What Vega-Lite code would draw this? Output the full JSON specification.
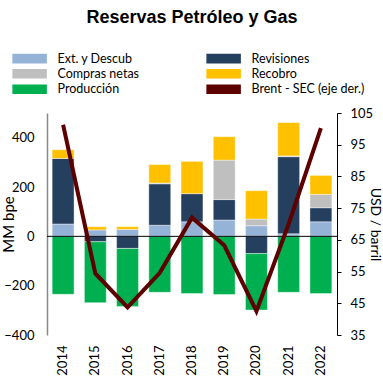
{
  "$schema": "https://vega.github.io/schema/vega-lite/v6.json",
  "width": 290,
  "height": 222,
  "autosize": {"type": "none"},
  "padding": {"left": 47, "top": 113, "right": 46, "bottom": 48},
  "background": "white",
  "title": {"text": "Reservas Petróleo y Gas", "font": "Liberation Sans", "fontSize": 18, "fontWeight": "bold", "anchor": "middle", "frame": "group", "color": "black", "offset": 25},
  "config": {"view": {"stroke": null}, "axis": {"grid": false}},
  "resolve": {"scale": {"y": "independent"}},
  "layer": [
    {
      "layer": [
        {
          "data": {"values": [
            {"year": "2014", "series": "Ext. y Descub", "value": 50},
            {"year": "2014", "series": "Revisiones", "value": 266},
            {"year": "2014", "series": "Recobro", "value": 35},
            {"year": "2014", "series": "Producción", "value": -235},
            {"year": "2015", "series": "Ext. y Descub", "value": 26},
            {"year": "2015", "series": "Revisiones", "value": -22},
            {"year": "2015", "series": "Recobro", "value": 13},
            {"year": "2015", "series": "Producción", "value": -247},
            {"year": "2016", "series": "Ext. y Descub", "value": 28},
            {"year": "2016", "series": "Revisiones", "value": -49},
            {"year": "2016", "series": "Recobro", "value": 11},
            {"year": "2016", "series": "Producción", "value": -235},
            {"year": "2017", "series": "Ext. y Descub", "value": 45},
            {"year": "2017", "series": "Revisiones", "value": 168},
            {"year": "2017", "series": "Compras netas", "value": 3},
            {"year": "2017", "series": "Recobro", "value": 75},
            {"year": "2017", "series": "Producción", "value": -227},
            {"year": "2018", "series": "Ext. y Descub", "value": 59},
            {"year": "2018", "series": "Revisiones", "value": 114},
            {"year": "2018", "series": "Recobro", "value": 131},
            {"year": "2018", "series": "Producción", "value": -232},
            {"year": "2019", "series": "Ext. y Descub", "value": 66},
            {"year": "2019", "series": "Revisiones", "value": 83},
            {"year": "2019", "series": "Compras netas", "value": 160},
            {"year": "2019", "series": "Recobro", "value": 95},
            {"year": "2019", "series": "Producción", "value": -236},
            {"year": "2020", "series": "Ext. y Descub", "value": 43},
            {"year": "2020", "series": "Revisiones", "value": -70},
            {"year": "2020", "series": "Compras netas", "value": 27},
            {"year": "2020", "series": "Recobro", "value": 115},
            {"year": "2020", "series": "Producción", "value": -229},
            {"year": "2021", "series": "Ext. y Descub", "value": 10},
            {"year": "2021", "series": "Revisiones", "value": 313},
            {"year": "2021", "series": "Compras netas", "value": 3},
            {"year": "2021", "series": "Recobro", "value": 135},
            {"year": "2021", "series": "Producción", "value": -227},
            {"year": "2022", "series": "Ext. y Descub", "value": 59},
            {"year": "2022", "series": "Revisiones", "value": 57},
            {"year": "2022", "series": "Compras netas", "value": 54},
            {"year": "2022", "series": "Recobro", "value": 77},
            {"year": "2022", "series": "Producción", "value": -232}
          ]},
          "transform": [
            {"calculate": "indexof(['Ext. y Descub','Revisiones','Compras netas','Recobro','Producción'], datum.series)", "as": "ord"}
          ],
          "mark": {"type": "bar", "stroke": "white", "strokeWidth": 0.6, "strokeOpacity": 0.7},
          "encoding": {
            "x": {
              "field": "year", "type": "ordinal",
              "scale": {"paddingInner": 0.32, "paddingOuter": 0.16},
              "axis": {"title": null, "labelAngle": -90, "labelFont": "Lato", "labelFontSize": 13, "labelColor": "black", "ticks": false, "domain": false, "labelPadding": 10}
            },
            "y": {
              "field": "value", "type": "quantitative",
              "scale": {"domain": [-400, 500], "nice": false},
              "axis": {"title": "MM bpe", "titleFont": "Lato", "titleFontSize": 15, "titleFontWeight": "normal", "titleColor": "black", "titleX": -31, "values": [-400, -200, 0, 200, 400], "labelFont": "Lato", "labelFontSize": 13, "labelColor": "black", "ticks": false, "labelPadding": 13, "domainColor": "#888888", "domainWidth": 1.5}
            },
            "color": {
              "field": "series", "type": "nominal",
              "scale": {
                "domain": ["Ext. y Descub", "Compras netas", "Producción", "Revisiones", "Recobro", "Brent - SEC (eje der.)"],
                "range": ["#95B3D7", "#BFBFBF", "#00B050", "#253F5F", "#FFC000", "#5C0000"]
              },
              "legend": {
                "orient": "none", "legendX": -36, "legendY": -61, "columns": 2, "title": null,
                "labelFont": "Lato", "labelFontSize": 12.5, "labelColor": "black", "labelLimit": 250,
                "symbolType": "M-1,-1H7V1H-1Z", "symbolSize": 68, "labelOffset": 34,
                "columnPadding": 64, "rowPadding": 0.5,
                "encode": {"symbols": {"update": {
                  "shape": {"signal": "datum.value === 'Brent - SEC (eje der.)' ? 'M-1.3,0H7.5' : 'M-1,-1H7V1H-1Z'"},
                  "fill": {"signal": "datum.value === 'Brent - SEC (eje der.)' ? 'transparent' : scale('color', datum.value)"},
                  "stroke": {"signal": "datum.value === 'Brent - SEC (eje der.)' ? '#5C0000' : 'transparent'"},
                  "strokeWidth": {"value": 3},
                  "opacity": {"value": 1},
                  "fillOpacity": {"value": 1},
                  "strokeOpacity": {"value": 1}
                }}}
              }
            },
            "order": {"field": "ord", "type": "quantitative"}
          }
        },
        {
          "data": {"values": [{}]},
          "mark": {"type": "rule", "color": "black", "strokeWidth": 1},
          "encoding": {"y": {"datum": 0}}
        }
      ]
    },
    {
      "data": {"values": [
        {"year": "2014", "series": "Brent - SEC (eje der.)", "brent": 101.3},
        {"year": "2015", "series": "Brent - SEC (eje der.)", "brent": 54.4},
        {"year": "2016", "series": "Brent - SEC (eje der.)", "brent": 43.7},
        {"year": "2017", "series": "Brent - SEC (eje der.)", "brent": 54.6},
        {"year": "2018", "series": "Brent - SEC (eje der.)", "brent": 72.0},
        {"year": "2019", "series": "Brent - SEC (eje der.)", "brent": 63.3},
        {"year": "2020", "series": "Brent - SEC (eje der.)", "brent": 42.5},
        {"year": "2021", "series": "Brent - SEC (eje der.)", "brent": 70.0},
        {"year": "2022", "series": "Brent - SEC (eje der.)", "brent": 100.2}
      ]},
      "mark": {"type": "line", "strokeWidth": 4, "strokeJoin": "miter"},
      "encoding": {
        "x": {"field": "year", "type": "ordinal"},
        "y": {
          "field": "brent", "type": "quantitative",
          "scale": {"domain": [35, 105], "nice": false, "zero": false},
          "axis": {"orient": "right", "title": "USD / barril", "titleFont": "Lato", "titleFontSize": 14, "titleFontWeight": "normal", "titleColor": "black", "titleX": 30, "values": [35, 45, 55, 65, 75, 85, 95, 105], "labelFont": "Lato", "labelFontSize": 13, "labelColor": "black", "tickSize": 4, "tickColor": "black", "domainColor": "black", "labelPadding": 9}
        },
        "color": {"field": "series", "type": "nominal"}
      }
    }
  ]
}
